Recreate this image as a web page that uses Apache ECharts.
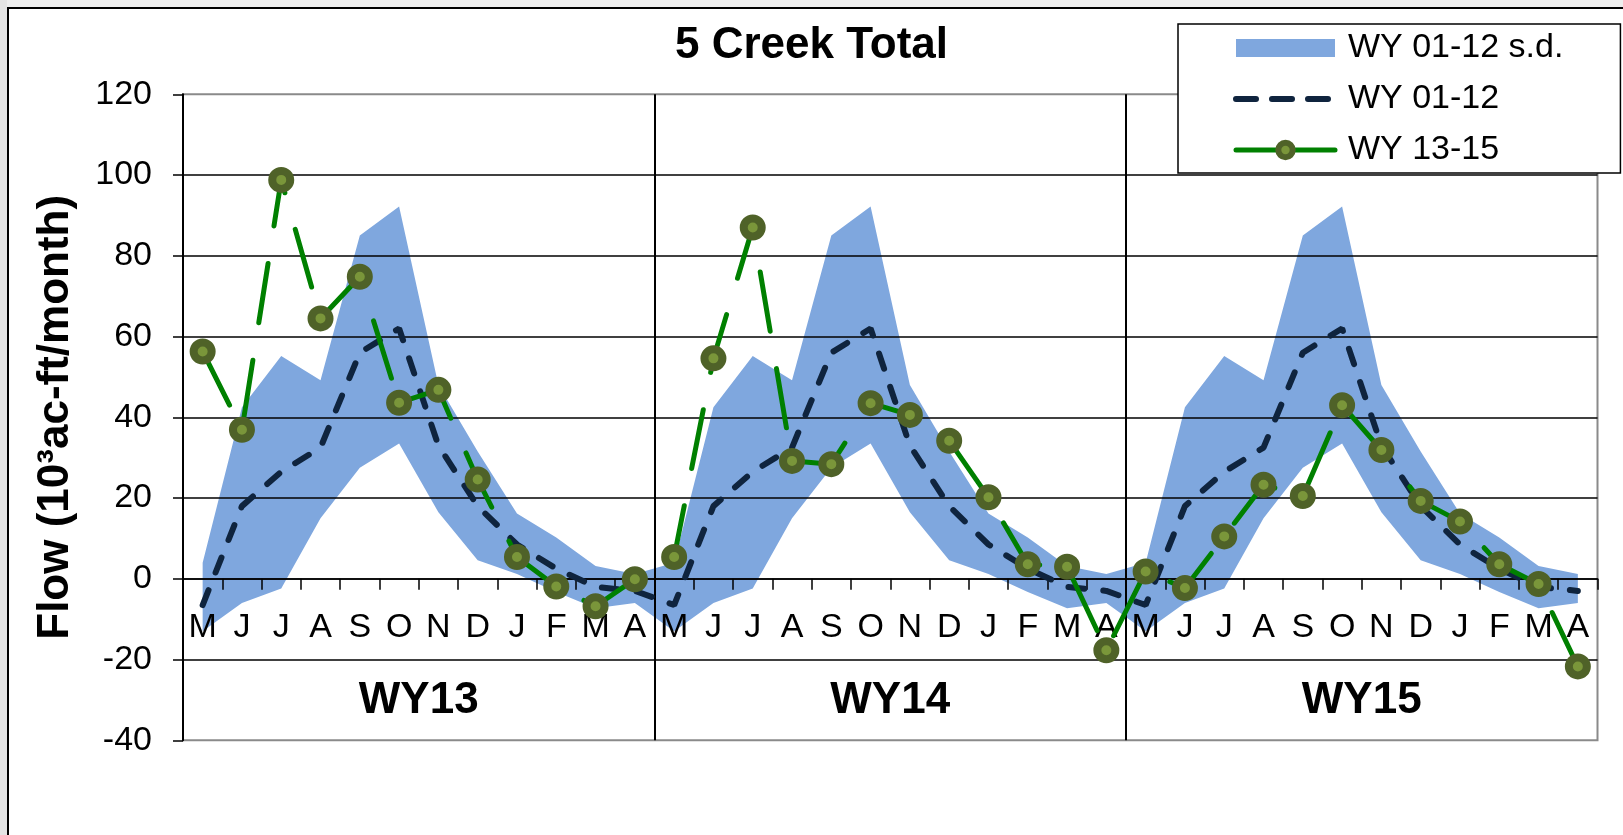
<!DOCTYPE html>
<html>
<head>
<meta charset="utf-8">
<script src="https://cdn.jsdelivr.net/npm/echarts@6/dist/echarts.min.js"></script>
<style>
html,body{margin:0;padding:0;background:#fff;}
#chart{width:1623px;height:835px;}
</style>
</head>
<body>
<div id="chart"></div>
<script>
// ---- data ----
const monthLabels = ['M','J','J','A','S','O','N','D','J','F','M','A'];
const waterYears = ['WY13','WY14','WY15'];
// WY 01-12 climatology (same for every water year panel)
const sdUpper = [4, 42.5, 55.2, 49.2, 85, 92.2, 48, 31.5, 16.2, 10.2, 3.2, 1.2];
const sdLower = [-13, -6, -2.4, 15, 27.5, 33.5, 16.5, 4.6, 1.2, -3.3, -7.3, -6];
const wy0112Mean = [-6.5, 18, 26.5, 32.5, 56, 62, 33, 18, 8.5, 2.5, -2, -3];
// WY 13-15 observed
const wy13 = [56.3, 36.9, 98.8, 64.5, 74.8, 43.6, 46.8, 24.6, 5.4, -1.9, -6.8, -0.1];
const wy14 = [5.4, 54.6, 87, 29.2, 28.4, 43.5, 40.6, 34.2, 20.2, 3.6, 3, -17.7];
const wy15 = [1.8, -2.3, 10.5, 23.3, 20.5, 43, 31.9, 19.3, 14.2, 3.6, -1.3, -21.7];
const yMin = -40, yMax = 120, yStep = 20;

// ---- build ----
const categories = [];
waterYears.forEach(w => monthLabels.forEach((m, i) => categories.push(w + '|' + i + '|' + m)));
const repeatYears = arr => waterYears.flatMap(() => arr);
const lowerAll = repeatYears(sdLower);
const upperAll = repeatYears(sdUpper);
const bandAll = upperAll.map((u, i) => +(u - lowerAll[i]).toFixed(2));
const meanAll = repeatYears(wy0112Mean);
const obsAll = [].concat(wy13, wy14, wy15);

const FONT = '"Liberation Sans", Arial, sans-serif';
const BAND = '#7FA7DE';

const gridTop = 94.3, gridBottomPx = 740.3;
// distance from the grid bottom up to the value 0 (month axis sits on zero)
const zeroOffset = -(gridBottomPx - gridTop) * (0 - yMin) / (yMax - yMin);

const chart = echarts.init(document.getElementById('chart'), null, {renderer: 'canvas'});
chart.setOption({
  animation: false,
  backgroundColor: '#fff',
  textStyle: {fontFamily: FONT, color: '#000'},
  graphic: [
    {type: 'rect', silent: true, z: -10, shape: {x: 0, y: 0, width: 1623, height: 7}, style: {fill: '#eeeeee'}},
    {type: 'rect', silent: true, z: -10, shape: {x: 0, y: 0, width: 7, height: 835}, style: {fill: '#e4e4e4'}},
    {type: 'rect', silent: true, z: -9, shape: {x: 8, y: 8, width: 1700, height: 900}, style: {fill: '#fff', stroke: '#000', lineWidth: 2}}
  ],
  title: {
    text: '5 Creek Total', left: 'center', top: 24, padding: 0,
    textStyle: {fontSize: 44, fontWeight: 'bold', color: '#000', lineHeight: 44, fontFamily: FONT}
  },
  legend: {
    orient: 'vertical', left: 1178, top: 24,
    padding: [7, 57, 6, 55],
    itemWidth: 99, itemHeight: 18, itemGap: 17,
    borderColor: '#000', borderWidth: 1.5, backgroundColor: '#fff',
    textStyle: {fontSize: 34, color: '#000', lineHeight: 34, fontFamily: FONT, padding: [0, 0, 0, 8]},
    data: [
      {name: 'WY 01-12 s.d.', icon: 'rect', itemStyle: {color: BAND, opacity: 1, borderWidth: 0}},
      {name: 'WY 01-12', itemStyle: {opacity: 0}, lineStyle: {color: '#0F243E', width: 6, type: [20, 16], cap: 'round'}},
      {name: 'WY 13-15', itemStyle: {color: '#7A963A', borderColor: '#4F6228', borderWidth: 6}, lineStyle: {color: '#008000', width: 5, type: 'solid', cap: 'round'}}
    ]
  },
  grid: {
    left: 183, right: 25.5, top: gridTop, bottom: 835 - gridBottomPx,
    show: true, borderColor: '#8a8a8a', borderWidth: 2, backgroundColor: 'transparent'
  },
  xAxis: [
    {
      type: 'category', data: categories, position: 'bottom', boundaryGap: true,
      offset: zeroOffset,
      axisLine: {onZero: false, lineStyle: {color: '#000', width: 1.5}},
      axisTick: {show: true, interval: 0, length: 11, lineStyle: {color: '#000', width: 1.5}},
      axisLabel: {interval: 0, margin: 32, fontSize: 34, color: '#000', fontFamily: FONT,
        formatter: v => v.split('|')[2]},
      splitLine: {show: false}
    },
    {
      type: 'category', data: waterYears, position: 'bottom', boundaryGap: true,
      axisLine: {show: false, onZero: false}, axisTick: {show: false},
      axisLabel: {inside: true, margin: 17, fontSize: 44, fontWeight: 'bold', color: '#000', lineHeight: 44, fontFamily: FONT},
      splitLine: {show: true, showMinLine: false, showMaxLine: false, lineStyle: {color: '#000', width: 2}}
    }
  ],
  yAxis: {
    type: 'value', min: yMin, max: yMax, interval: yStep,
    name: 'Flow (10³ac-ft/month)', nameLocation: 'middle', nameRotate: 90, nameGap: 105,
    nameTextStyle: {fontSize: 44, fontWeight: 'bold', color: '#000', fontFamily: FONT},
    axisLine: {show: true, onZero: false, lineStyle: {color: '#000', width: 2}},
    axisTick: {show: true, length: 10, lineStyle: {color: '#000', width: 1.5}},
    axisLabel: {fontSize: 34, margin: 31, color: '#000', fontFamily: FONT},
    splitLine: {show: true, showMinLine: false, showMaxLine: false, lineStyle: {color: '#000', width: 1.5}}
  },
  series: [
    {
      name: 'sd-base', type: 'line', data: lowerAll, stack: 'sd', stackStrategy: 'all',
      symbol: 'none', silent: true, z: -1, lineStyle: {width: 0, color: BAND}
    },
    {
      name: 'WY 01-12 s.d.', type: 'line', data: bandAll, stack: 'sd', stackStrategy: 'all',
      symbol: 'none', silent: true, z: -1,
      lineStyle: {width: 0, color: BAND}, itemStyle: {color: BAND},
      areaStyle: {color: BAND, opacity: 1}
    },
    {
      name: 'WY 01-12', type: 'line', data: meanAll, symbol: 'none', z: 3,
      itemStyle: {color: '#0F243E'},
      lineStyle: {color: '#0F243E', width: 6, type: [16, 19], cap: 'round'}
    },
    {
      name: 'WY 13-15', type: 'line', data: obsAll, symbol: 'circle', symbolSize: 18, showSymbol: true, z: 4,
      itemStyle: {color: '#7A963A', borderColor: '#4F6228', borderWidth: 8},
      lineStyle: {color: '#008000', width: 5, type: [60, 38], cap: 'round'}
    }
  ]
});
</script>
</body>
</html>
